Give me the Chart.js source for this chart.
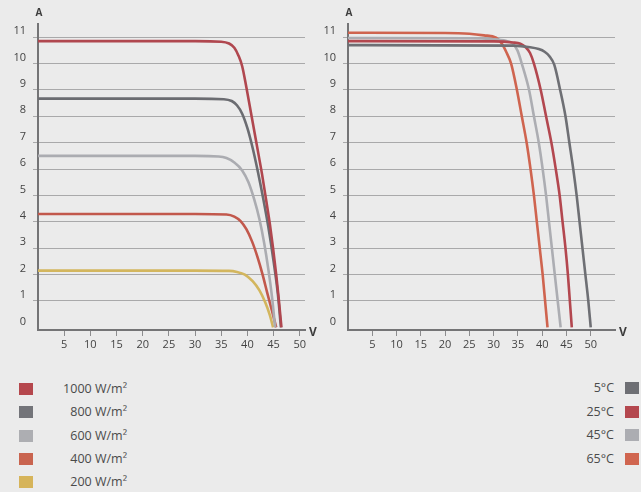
<!DOCTYPE html>
<html>
<head>
<meta charset="utf-8">
<script src="https://cdn.jsdelivr.net/npm/chart.js@4.4.0/dist/chart.umd.min.js"></script>
<style>
  body { margin: 0; background: #ebebeb; }
  #wrap { position: relative; width: 641px; height: 492px; background: #ebebeb; font-family: "Open Sans", sans-serif; color: #4a4a4a; overflow: hidden; }
  #irrChart { position: absolute; left: 0; top: 0; }
  #tempChart { position: absolute; left: 320px; top: 0; }
  .row { position: absolute; height: 16px; line-height: 16px; font-size: 12.5px; white-space: nowrap; }
  .sw { position: absolute; width: 14px; height: 12px; top: 2px; }
  .txt { position: absolute; top: 0; text-align: right; }
</style>
</head>
<body>
<div id="wrap">
  <canvas id="irrChart" width="320" height="360"></canvas>
  <canvas id="tempChart" width="321" height="360"></canvas>
  <div id="irrLegend"></div>
  <div id="tempLegend"></div>
</div>
<script>
// --- Axis ticks ---
const xTicks = [5, 10, 15, 20, 25, 30, 35, 40, 45, 50];
const yTicks = [0, 1, 2, 3, 4, 5, 6, 7, 8, 9, 10, 11];

// --- Left chart: irradiance (V, A) ---
const irrLabels = ['1000 W/m²', '800 W/m²', '600 W/m²', '400 W/m²', '200 W/m²'];
const irrColors = ['#b0474f', '#6b6c71', '#abacb1', '#c2584c', '#d3b65e'];
const irrSwatches = ['#b5474d', '#737479', '#adaeb2', '#c9644f', '#d6b45a'];

const v1000 = [0, 30, 35, 36.5, 37.5, 38.3, 39, 39.8, 40.8, 41.8, 42.8, 43.6, 44.3, 44.9, 45.5, 46, 46.5];
const i1000 = [10.85, 10.85, 10.83, 10.76, 10.6, 10.3, 9.9, 9.1, 8.0, 6.9, 5.8, 4.8, 3.9, 3.0, 2.0, 1.05, 0];
const v800 = [0, 30, 35.5, 37, 38, 39, 40, 41, 42, 43, 44, 45, 45.8, 46.4];
const i800 = [8.67, 8.67, 8.65, 8.58, 8.42, 8.1, 7.55, 6.8, 5.9, 4.9, 3.8, 2.5, 1.3, 0];
const v600 = [0, 30, 34.5, 36, 37.5, 39, 40.2, 41.3, 42.3, 43.2, 44, 44.7, 45.3];
const i600 = [6.5, 6.5, 6.48, 6.42, 6.25, 5.95, 5.5, 4.85, 4.1, 3.2, 2.2, 1.15, 0];
const v400 = [0, 30, 36, 37.5, 38.7, 39.8, 40.9, 41.9, 42.9, 43.8, 44.7, 45.5];
const i400 = [4.3, 4.3, 4.28, 4.2, 4.03, 3.72, 3.25, 2.68, 2.0, 1.3, 0.62, 0];
const v200 = [0, 30, 36.5, 38, 39.5, 41, 42.3, 43.4, 44.3, 44.9];
const i200 = [2.15, 2.15, 2.14, 2.1, 2.0, 1.75, 1.4, 0.95, 0.45, 0];

// --- Right chart: temperature (V, A) ---
const tempLabels = ['5°C', '25°C', '45°C', '65°C'];
const tempColors = ['#6e6f74', '#b3474f', '#acadb2', '#cf644f'];
const tempSwatches = ['#6e6f74', '#b4474e', '#acadb2', '#d0654f'];

const v5 = [0, 34, 37.5, 39.3, 40.5, 41.5, 42.5, 43.7, 44.8, 45.6, 46.4, 47.1, 47.7, 48.3, 48.9, 49.5, 50];
const i5 = [10.7, 10.68, 10.62, 10.55, 10.45, 10.28, 9.95, 9, 8, 7, 6, 5, 4, 3, 2, 1, 0];
const v25 = [0, 30, 34, 35.5, 36.6, 37.5, 38.3, 39.7, 40.8, 41.9, 42.8, 43.6, 44.2, 44.8, 45.3, 45.7, 46.1];
const i25 = [10.85, 10.84, 10.8, 10.75, 10.62, 10.4, 10, 9, 8, 7, 6, 5, 4, 3, 2, 1, 0];
const v45 = [0, 25, 30, 32.5, 33.8, 34.9, 35.8, 37.3, 38.3, 39.3, 40.1, 40.8, 41.4, 42, 42.6, 43.2, 43.8];
const i45 = [10.97, 10.96, 10.92, 10.86, 10.78, 10.5, 10, 9, 8, 7, 6, 5, 4, 3, 2, 1, 0];
const v65 = [0, 20, 25, 28, 30.5, 31.7, 32.7, 33.6, 34.8, 35.8, 36.8, 37.6, 38.3, 38.9, 39.5, 40.1, 40.6, 41.1];
const i65 = [11.17, 11.16, 11.13, 11.07, 10.98, 10.75, 10.4, 10, 9, 8, 7, 6, 5, 4, 3, 2, 1, 0];

const irrV = [v1000, v800, v600, v400, v200];
const irrI = [i1000, i800, i600, i400, i200];
const tempV = [v5, v25, v45, v65];
const tempI = [i5, i25, i45, i65];

const FONT = '"Open Sans", sans-serif';
const GRID = '#a9a9aa';
const AXIS = '#747476';

const axisLetters = {
  id: 'axisLetters',
  afterDraw(chart) {
    const { ctx, chartArea: a } = chart;
    ctx.save();
    ctx.font = 'bold 10px ' + FONT;
    ctx.fillStyle = '#3c3c3c';
    ctx.textAlign = 'center';
    ctx.textBaseline = 'middle';
    ctx.fillText('A', a.left + 1, 13);
    ctx.font = 'bold 12px ' + FONT;
    ctx.fillText('V', a.right + 8, a.bottom + 3);
    ctx.restore();
  }
};

function makeDatasets(labels, colors, vs, is) {
  return labels.map((label, k) => ({
    label,
    data: vs[k].map((v, j) => ({ x: v, y: is[k][j] })),
    borderColor: colors[k],
    borderWidth: 2.6,
    pointRadius: 0,
    fill: false,
    cubicInterpolationMode: 'monotone',
    clip: false,
  }));
}

function makeOptions(xMax, yWidth, padRight) {
  return {
    responsive: false,
    devicePixelRatio: 1,
    animation: false,
    layout: { padding: { top: 24, right: padRight, left: 0, bottom: 0 } },
    plugins: { legend: { display: false }, tooltip: { enabled: false } },
    scales: {
      x: {
        type: 'linear', min: 0, max: xMax,
        afterBuildTicks: (s) => { s.ticks = xTicks.map(v => ({ value: v })); },
        afterFit: (s) => { s.height = 30; },
        grid: { drawOnChartArea: false, drawTicks: true, tickLength: 6, tickColor: '#8c8c8e', tickWidth: 1 },
        border: { display: true, color: AXIS, width: 2 },
        ticks: { padding: 2, color: '#444', font: { family: FONT, size: 11 }, maxRotation: 0 },
      },
      y: {
        type: 'linear', min: -0.1, max: 11.5,
        afterBuildTicks: (s) => { s.ticks = yTicks.map(v => ({ value: v })); },
        afterFit: (s) => { s.width = yWidth; },
        grid: {
          color: (c) => (c.tick && c.tick.value === 0 ? 'rgba(0,0,0,0)' : GRID),
          tickColor: (c) => (c.tick && c.tick.value === 0 ? 'rgba(0,0,0,0)' : GRID),
          lineWidth: 1, tickLength: 5,
        },
        border: { display: true, color: AXIS, width: 2 },
        ticks: { padding: 7, labelOffset: -6, color: '#444', font: { family: FONT, size: 11 } },
      },
    },
  };
}

new Chart(document.getElementById('irrChart'), {
  type: 'line',
  data: { datasets: makeDatasets(irrLabels, irrColors, irrV, irrI) },
  options: makeOptions(51, 38, 15),
  plugins: [axisLetters],
});

new Chart(document.getElementById('tempChart'), {
  type: 'line',
  data: { datasets: makeDatasets(tempLabels, tempColors, tempV, tempI) },
  options: makeOptions(55, 28, 26),
  plugins: [axisLetters],
});

// --- HTML legends ---
function buildLegend(id, labels, swatches, swLeft, textRight, top0, step) {
  const el = document.getElementById(id);
  labels.forEach((label, k) => {
    const row = document.createElement('div');
    row.className = 'row';
    row.style.left = '0px';
    row.style.top = (top0 + k * step - 8) + 'px';
    row.style.width = '641px';
    const sw = document.createElement('div');
    sw.className = 'sw';
    sw.style.left = swLeft + 'px';
    sw.style.background = swatches[k];
    const txt = document.createElement('div');
    txt.className = 'txt';
    txt.style.right = (641 - textRight) + 'px';
    txt.textContent = label;
    row.appendChild(sw);
    row.appendChild(txt);
    el.appendChild(row);
  });
}
buildLegend('irrLegend', irrLabels, irrSwatches, 19, 127, 389, 23.3);
buildLegend('tempLegend', tempLabels, tempSwatches, 625, 614, 388, 23.7);
</script>
</body>
</html>
